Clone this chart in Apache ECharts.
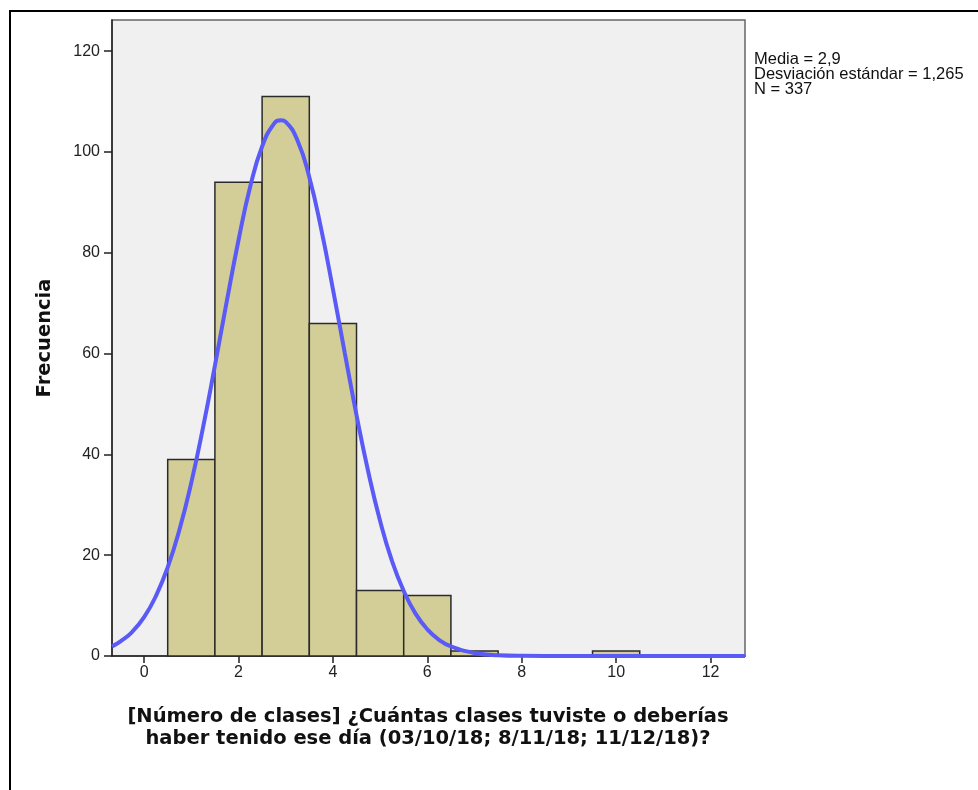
<!DOCTYPE html>
<html>
<head>
<meta charset="utf-8">
<script src="https://cdn.jsdelivr.net/npm/echarts@6/dist/echarts.min.js"></script>
<style>
html,body{margin:0;padding:0;background:#fff;}
#chart{width:978px;height:790px;}
</style>
</head>
<body>
<div id="chart"></div>
<script>
// Histogram bins (bin centre, width 1) and frequencies
const binCenters = [1, 2, 3, 4, 5, 6, 7, 8, 9, 10];
const frequencies = [39, 94, 111, 66, 13, 12, 1, 0, 0, 1];

// Normal curve
const curveX = [-0.68, -0.5, -0.25, 0, 0.25, 0.5, 0.75, 1, 1.25, 1.5, 1.75, 2, 2.25, 2.5, 2.75, 2.9, 3, 3.25, 3.5, 3.75, 4, 4.25, 4.5, 4.75, 5, 5.25, 5.5, 5.75, 6, 6.25, 6.5, 7, 7.5, 8, 9, 10, 11, 12, 12.73];
const curveY = [1.9, 2.9, 4.8, 7.7, 11.9, 17.6, 25.1, 34.4, 45.4, 57.6, 70.3, 82.5, 93.2, 101.1, 105.6, 106.3, 106.0, 102.3, 95.0, 84.8, 72.8, 60.2, 47.8, 36.5, 26.8, 18.9, 12.9, 8.4, 5.3, 3.2, 1.9, 0.6, 0.14, 0.03, 0, 0, 0, 0, 0];

const xTicks = [0, 2, 4, 6, 8, 10, 12];
const yTicks = [0, 20, 40, 60, 80, 100, 120];

const statsLines = ['Media = 2,9', 'Desviación estándar = 1,265', 'N = 337'];
const xTitle = '[Número de clases] ¿Cuántas clases tuviste o deberías\nhaber tenido ese día (03/10/18; 8/11/18; 11/12/18)?';
const yTitle = 'Frecuencia';

const barData = binCenters.map((c, i) => [c, frequencies[i]]);
const curveData = curveX.map((x, i) => [x, curveY[i]]);

const chart = echarts.init(document.getElementById('chart'), null, {renderer: 'canvas'});
const font = '"Liberation Sans", Arial, sans-serif';
const boldFont = '"DejaVu Sans", Verdana, sans-serif';

chart.setOption({
  animation: false,
  backgroundColor: '#fff',
  grid: {
    left: 112, top: 20, right: 233, bottom: 134,
    show: true, backgroundColor: '#f0f0f0', borderColor: '#666', borderWidth: 1.5
  },
  xAxis: {
    type: 'value', min: -0.68, max: 12.73,
    axisLine: {show: true, onZero: false, lineStyle: {color: '#222', width: 1.5}},
    axisTick: {show: true, length: 7, lineStyle: {color: '#222', width: 1.5}, customValues: xTicks},
    axisLabel: {color: '#222', fontSize: 16, fontFamily: font, margin: 9, customValues: xTicks},
    splitLine: {show: false}
  },
  yAxis: {
    type: 'value', min: 0, max: 126.2,
    axisLine: {show: true, onZero: false, lineStyle: {color: '#222', width: 1.5}},
    axisTick: {show: true, length: 8, lineStyle: {color: '#222', width: 1.5}, customValues: yTicks},
    axisLabel: {color: '#222', fontSize: 16, fontFamily: font, margin: 12, customValues: yTicks},
    splitLine: {show: false}
  },
  series: [
    {
      type: 'custom',
      data: barData,
      z: 2,
      renderItem: function (params, api) {
        const c = api.value(0), v = api.value(1);
        if (!v) return null;
        const p0 = api.coord([c - 0.5, v]);
        const p1 = api.coord([c + 0.5, 0]);
        return {
          type: 'rect',
          shape: {x: p0[0], y: p0[1], width: p1[0] - p0[0], height: p1[1] - p0[1]},
          style: {fill: '#d3ce97', stroke: '#2b2b2b', lineWidth: 1.5}
        };
      }
    },
    {
      type: 'line',
      data: curveData,
      smooth: true,
      showSymbol: false,
      z: 3,
      lineStyle: {color: '#5a5af7', width: 4},
      clip: true
    }
  ],
  graphic: [
    {
      type: 'rect', shape: {x: 10, y: 11, width: 1000, height: 800},
      style: {fill: 'none', stroke: '#000', lineWidth: 2}, silent: true
    },
    {
      type: 'text', left: 754, top: 51,
      style: {text: statsLines.join('\n'), font: '16.5px ' + font, fill: '#111', lineHeight: 15}
    },
    {
      type: 'text', x: 428, y: 728,
      style: {text: xTitle, font: 'bold 19.5px ' + boldFont, fill: '#111', align: 'center', verticalAlign: 'middle', lineHeight: 22}
    },
    {
      type: 'text', x: 45, y: 338, rotation: Math.PI / 2,
      style: {text: yTitle, font: 'bold 19.5px ' + boldFont, fill: '#111', align: 'center', verticalAlign: 'middle'}
    }
  ]
});
</script>
</body>
</html>
